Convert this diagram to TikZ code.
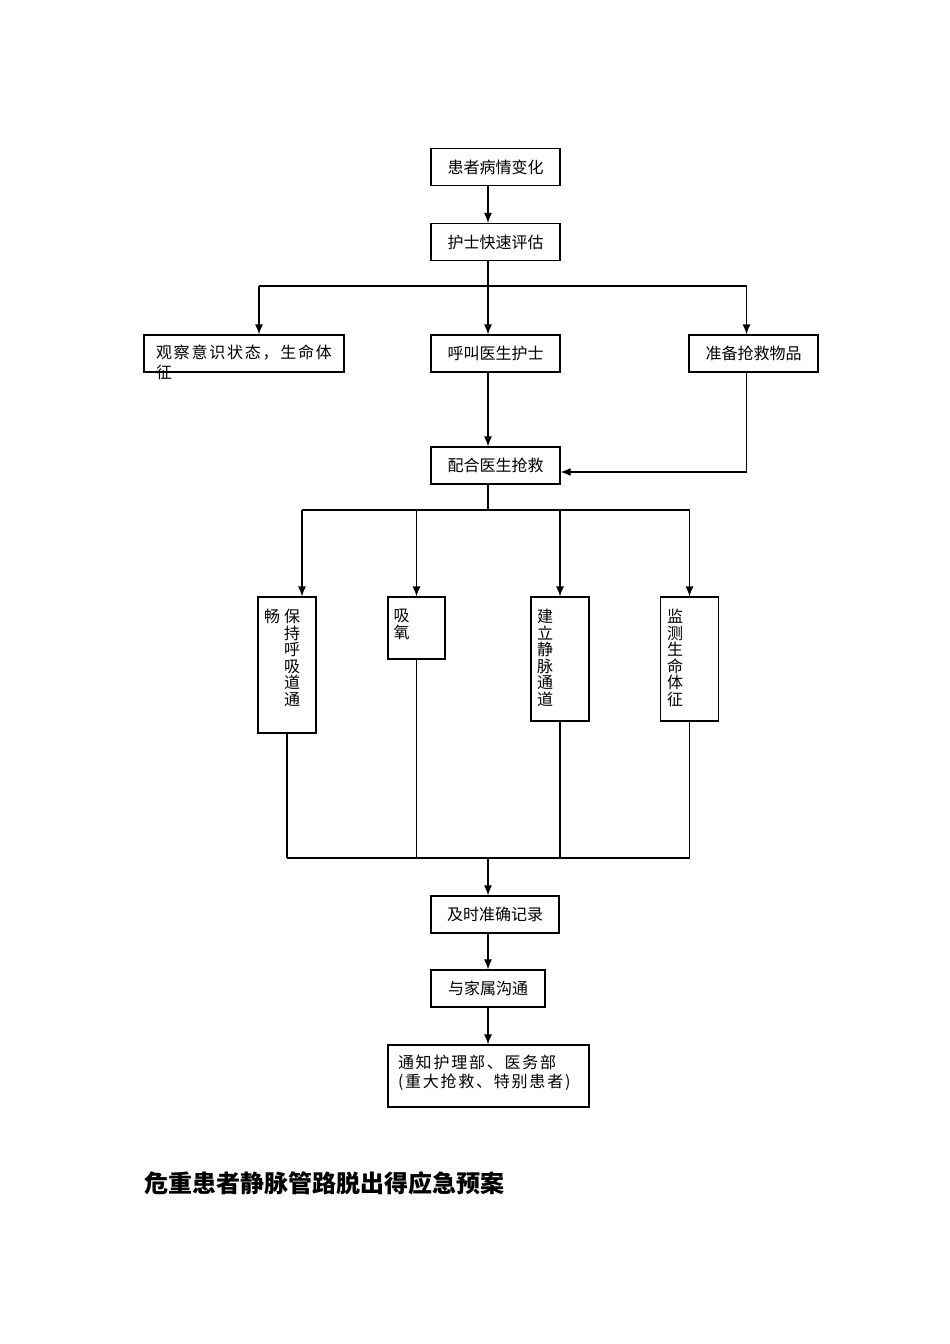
\documentclass[tikz,border=0pt]{standalone}
\usepackage{fontspec}
\newfontfamily\cjk{Noto Sans CJK SC}
\newfontfamily\cjkwide{Noto Sans CJK SC}[LetterSpace=11]
\usetikzlibrary{arrows.meta}

\begin{document}
\begin{tikzpicture}[x=1pt, y=-1pt,
		>={Latex[length=10pt,width=8pt]},   %Pfeilspitzen
		line width=1.2pt,
		font=\cjk\fontsize{16}{19}\selectfont,
		kasten/.style={draw, rectangle, inner sep=0pt, minimum height=37pt, minimum width=#1},
		kasten/.default=129pt,
		txt/.style={inner sep=0pt, align=left, anchor=north west, font=\cjkwide\fontsize{16}{19.5}\selectfont},
		senk/.style={inner sep=0pt, align=center, anchor=north, font=\cjk\fontsize{16}{16.6}\selectfont}]
		\useasboundingbox (0,0) rectangle (950,1344);
		% Kaesten oben
		\node[kasten] (bingqing) at (495.5,167) {患者病情变化};
		\node[kasten] (pinggu) at (495.5,242) {护士快速评估};
		\node[kasten=200pt] (guancha) at (244,353.5) {};
		\node[kasten] (hujiao) at (495.5,353.5) {呼叫医生护士};
		\node[kasten] (wupin) at (753.5,353.5) {准备抢救物品};
		\node[kasten] (qiangjiu) at (495.5,465.5) {配合医生抢救};
		% Senkrechte Kaesten
		\node[kasten=58pt, minimum height=136pt] (qidao) at (287,665) {};
		\node[kasten=57pt, minimum height=62pt] (xiyang) at (416.5,628) {};
		\node[kasten=58pt, minimum height=124pt] (jingmai) at (560,659) {};
		\node[kasten=57.5pt, minimum height=124pt] (jiance) at (689.5,659) {};
		% Kaesten unten
		\node[kasten=128pt] (jilu) at (495,914.5) {及时准确记录};
		\node[kasten=114pt] (goutong) at (488,988.5) {与家属沟通};
		\node[kasten=201pt, minimum height=62pt] (tongzhi) at (488.5,1076) {};
		% Texte
		\node[txt] (guancha-t) at ([xshift=12pt,yshift=-10pt]guancha.north west) {观察意识状态，生命体\\征};
		\node[senk] (qidao-a) at ([xshift=5pt,yshift=-12pt]qidao.north) {保\\持\\呼\\吸\\道\\通};
		\node[senk] (qidao-b) at ([xshift=-15pt,yshift=-12pt]qidao.north) {畅};
		\node[senk] (xiyang-t) at ([xshift=-15pt,yshift=-12pt]xiyang.north) {吸\\氧};
		\node[senk] (jingmai-t) at ([xshift=-15pt,yshift=-12pt]jingmai.north) {建\\立\\静\\脉\\通\\道};
		\node[senk] (jiance-t) at ([xshift=-14.5pt,yshift=-12pt]jiance.north) {监\\测\\生\\命\\体\\征};
		\node[txt] (tongzhi-t) at ([xshift=10pt,yshift=-9.5pt]tongzhi.north west) {通知护理部、医务部\\(重大抢救、特别患者)};
		% Verzweigungspunkte
		\coordinate (m1) at (488,286);
		\coordinate (l1) at (259,286);
		\coordinate (r1) at (746.5,286);
		\coordinate (m2) at (488,510);
		\coordinate (m3) at (488,858);
		% Pfeile oben
		\draw[->] (bingqing.south -| m1) -- (pinggu.north -| m1);
		\draw (pinggu.south -| m1) -- (m1);
		\draw (l1) -- (r1);
		\draw[->] (l1) -- (guancha.north -| l1);
		\draw[->] (m1) -- (hujiao.north -| m1);
		\draw[->] (r1) -- (wupin.north -| r1);
		\draw[->] (hujiao.south -| m1) -- (qiangjiu.north -| m1);
		\draw[->] (wupin.south -| r1) |- ([yshift=-6.5pt]qiangjiu.east);
		% zweite Verzweigung
		\draw (qiangjiu.south -| m2) -- (m2);
		\foreach \k/\xk [count=\i] in {qidao/302, xiyang/416.5, jingmai/560, jiance/689.5}
		{
			\coordinate (t\i) at (\xk,510);
			\draw[->] (t\i) -- (\k.north -| t\i);
		}
		\draw (t1) -- (t4);
		% Zusammenfuehrung
		\foreach \k in {qidao, xiyang, jingmai, jiance}
			\draw (\k.south) -- (\k.south |- m3);
		\draw (qidao.south |- m3) -- (jiance.south |- m3);
		\draw[->] (m3) -- (jilu.north -| m3);
		\draw[->] (jilu.south -| m3) -- (goutong.north -| m3);
		\draw[->] (goutong.south -| m3) -- (tongzhi.north -| m3);
		% Ueberschrift
		\node[anchor=west, inner sep=0pt, font=\cjk\bfseries\fontsize{24}{28}\selectfont] (titel) at (144,1183) {危重患者静脉管路脱出得应急预案};
	\end{tikzpicture}
\end{document}
